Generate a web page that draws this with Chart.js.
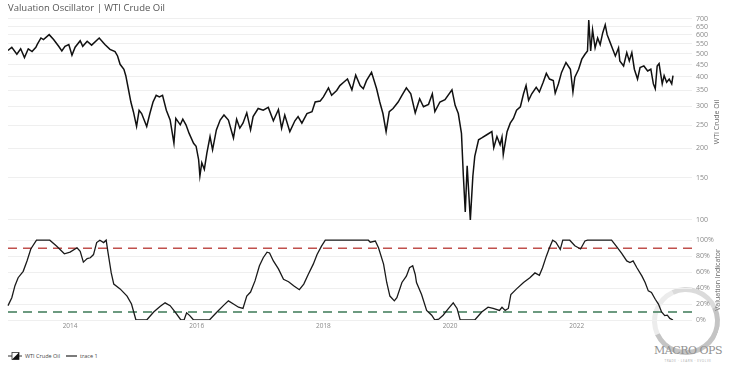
<!DOCTYPE html>
<html>
<head>
<meta charset="utf-8">
<script src="https://cdn.jsdelivr.net/npm/chart.js@4.4.0/dist/chart.umd.min.js"></script>
<style>
  html, body { margin: 0; padding: 0; background: #fff; }
  body { width: 731px; height: 381px; position: relative; overflow: hidden; font-family: "Open Sans", sans-serif; }
  canvas { position: absolute; left: 0; }
  #topChart { top: 0; z-index: 2; }
  #botChart { top: 232px; z-index: 2; }
  #title { position: absolute; left: 8px; top: 1px; font-size: 9.5px; color: #555; z-index: 3; }
  .ytitle { position: absolute; font-size: 7px; color: #666; white-space: nowrap; transform: translate(-50%, -50%) rotate(-90deg); z-index: 3; }
  #legend { position: absolute; left: 8px; top: 352px; font-size: 5.5px; color: #444; display: flex; align-items: center; z-index: 3; }
  #legend svg { margin-right: 3px; }
  #legend span { margin-right: 6px; }
  #logo { position: absolute; left: 652px; top: 287px; width: 58px; height: 58px; border-radius: 50%;
          border: 5px solid #c4c4c4; border-left-color: rgba(196,196,196,0.3); border-top-color: rgba(196,196,196,0.6);
          transform: rotate(20deg); z-index: 1; }
  #logoText { position: absolute; left: 648px; top: 344px; width: 80px; text-align: center; white-space: nowrap; font-family: "DejaVu Serif", "Liberation Serif", serif;
              font-size: 11px; color: #909090; letter-spacing: -0.5px; z-index: 1; }
  #logoTag { position: absolute; left: 648px; top: 359px; width: 80px; text-align: center; white-space: nowrap; font-size: 3px; color: #aaa; letter-spacing: 0.6px; z-index: 1; }
</style>
</head>
<body>
<div id="title">Valuation Oscillator | WTI Crude Oil</div>
<div class="ytitle" style="left:716px; top:122px;">WTI Crude Oil</div>
<div class="ytitle" style="left:717px; top:280px;">Valuation Indicator</div>
<div id="logo"></div>
<div id="logoText">MACRO OPS</div>
<div id="logoTag">TRADE · LEARN · EVOLVE</div>
<canvas id="topChart" width="731" height="235"></canvas>
<canvas id="botChart" width="731" height="110"></canvas>
<div id="legend">
  <svg width="14" height="8"><line x1="0" y1="4" x2="14" y2="4" stroke="#333" stroke-width="1"/><rect x="4" y="0.5" width="7" height="7" fill="#fff" stroke="#333" stroke-width="0.8"/><polygon points="4,7.5 11,0.5 11,7.5" fill="#111"/></svg>
  <span>WTI Crude Oil</span>
  <svg width="11" height="8"><line x1="0" y1="4" x2="11" y2="4" stroke="#333" stroke-width="1.3"/></svg>
  <span>trace 1</span>
</div>
<script>
// time in decimal years
let oilTime = [2013.02,2013.08,2013.16,2013.22,2013.28,2013.34,2013.40,2013.46,2013.48,2013.54,2013.58,2013.67,2013.74,2013.82,2013.87,2013.92,2013.98,
  2014.03,2014.08,2014.16,2014.20,2014.27,2014.34,2014.46,2014.55,2014.63,2014.71,2014.75,2014.79,2014.85,2014.88,2014.92,2014.96,
  2015.00,2015.05,2015.09,2015.13,2015.17,2015.21,2015.26,2015.31,2015.36,2015.41,2015.46,2015.52,2015.58,2015.64,2015.67,2015.74,2015.78,2015.83,2015.88,2015.95,2015.99,
  2016.03,2016.05,2016.08,2016.12,2016.16,2016.21,2016.25,2016.31,2016.37,2016.43,2016.50,2016.58,2016.63,2016.68,2016.73,2016.79,2016.85,2016.89,2016.97,
  2017.05,2017.13,2017.21,2017.29,2017.34,2017.39,2017.47,2017.55,2017.60,2017.66,2017.74,2017.82,2017.87,2017.95,
  2018.00,2018.08,2018.13,2018.21,2018.26,2018.32,2018.38,2018.45,2018.51,2018.58,2018.63,2018.68,2018.76,2018.84,2018.89,2018.94,2018.99,
  2019.04,2019.10,2019.18,2019.24,2019.31,2019.38,2019.45,2019.52,2019.58,2019.66,2019.72,2019.76,2019.84,2019.92,
  2020.03,2020.08,2020.13,2020.18,2020.21,2020.24,2020.27,2020.32,2020.36,2020.39,2020.45,2020.50,2020.58,2020.66,2020.69,2020.74,2020.79,2020.82,2020.84,2020.90,2020.95,
  2021.00,2021.05,2021.11,2021.16,2021.20,2021.24,2021.29,2021.36,2021.41,2021.47,2021.52,2021.57,2021.63,2021.66,2021.71,2021.76,2021.83,2021.90,2021.94,2021.97,
  2022.03,2022.08,2022.13,2022.17,2022.19,2022.22,2022.25,2022.29,2022.33,2022.37,2022.41,2022.45,2022.48,2022.53,2022.57,2022.61,2022.66,2022.68,2022.74,2022.79,2022.83,2022.87,2022.91,2022.96,
  2023.00,2023.06,2023.12,2023.17,2023.21,2023.24,2023.27,2023.30,2023.35,2023.38,2023.42,2023.46,2023.50,2023.52]
let oilPrice = [516,532,497,524,481,524,510,532,546,582,573,601,573,537,513,537,546,
  493,532,567,537,564,543,582,546,521,510,489,451,430,404,356,313,
  285,247,289,280,263,247,280,313,334,329,334,289,263,210,267,251,265,251,231,210,204,
  179,153,174,163,191,224,197,239,263,276,263,221,265,243,255,282,239,272,294,
  289,297,261,291,243,276,235,261,272,255,280,285,313,316,
  329,359,334,350,367,379,391,352,406,367,356,385,417,356,313,280,235,
  285,294,313,334,359,339,282,323,299,306,339,285,313,320,
  352,303,280,231,153,108,169,100,153,185,217,221,228,235,201,224,207,223,188,235,255,
  267,289,299,339,367,318,339,361,345,379,413,391,385,341,373,417,459,430,345,398,
  430,474,497,513,693,513,630,529,582,546,611,661,601,555,521,489,529,466,444,505,466,505,430,391,
  437,444,423,430,373,356,444,454,373,404,379,391,373,404]

let indTime = [2013.02,2013.08,2013.13,2013.18,2013.26,2013.32,2013.38,2013.47,2013.68,2013.79,2013.91,
  2014.00,2014.11,2014.16,2014.21,2014.27,2014.32,2014.37,2014.42,2014.47,2014.53,2014.57,2014.60,2014.65,2014.69,2014.79,2014.90,2014.97,
  2015.04,2015.21,2015.32,2015.42,2015.50,2015.58,2015.66,2015.75,2015.80,2015.84,2015.89,2015.95,
  2016.20,2016.32,2016.42,2016.50,2016.58,2016.66,2016.73,2016.79,2016.85,2016.92,2016.99,
  2017.05,2017.11,2017.15,2017.21,2017.29,2017.37,2017.45,2017.53,2017.62,2017.69,2017.76,2017.84,2017.90,2017.97,
  2018.03,2018.71,2018.74,2018.82,2018.87,2018.95,
  2019.00,2019.05,2019.12,2019.16,2019.24,2019.31,2019.36,2019.41,2019.45,2019.47,2019.55,2019.63,2019.71,2019.76,2019.82,2019.89,2019.97,
  2020.05,2020.11,2020.16,2020.39,2020.50,2020.60,2020.68,2020.78,2020.82,2020.87,2020.92,2020.96,
  2021.05,2021.16,2021.26,2021.34,2021.41,2021.46,2021.52,2021.57,2021.62,2021.67,2021.74,2021.78,2021.89,2021.97,
  2022.06,2022.13,2022.17,2022.55,2022.63,2022.71,2022.79,2022.84,2022.89,2022.95,
  2023.03,2023.08,2023.13,2023.18,2023.24,2023.29,2023.34,2023.39,2023.43,2023.47,2023.52]
let indValue = [18,28,43,53,61,74,89,100,100,92.5,83,
  85,90.5,86,72.5,77,78,82,97,100,97,100,84,59,45,39,30,20,
  0,0,10,17,21.5,18,10,0,0,9,5.5,0,
  0,10,18,24,20,16,14.5,30,35,49,68,
  78,85,84,74,64,51,48,43,38,45,57,70,82,92.5,
  100,100,97.5,99,90.5,70,
  47,30,24,28,47,55,65.5,68,57,47,32,12,6,0,1,6,14,
  21.5,14.5,0,0,10,16,14.5,12,16,12,14.5,32,
  39,47,53,59,56,65.5,80,90.5,100,97.5,88.5,100,100,93,
  89,99,100,100,92,83.5,74,72,74,65.5,
  55,47,36.5,34.5,26,20,10,5.5,6,2,0]

let oilTicks = [100,150,200,250,300,350,400,450,500,550,600,650,700]
let yearTicks = [2014,2016,2018,2020,2022]
let indTicks = [0,20,40,60,80,100]
const HIGH = 90, LOW = 10
const X_MIN = 2013.02, X_MAX = 2023.82

Chart.defaults.font.family = '"Open Sans", sans-serif'
Chart.defaults.animation = false

const tickFont = { size: 7 }
const tickColor = '#8a8a8a'
const gridColor = '#efefef'

function pts(xs, ys) { return xs.map((x, i) => ({ x: x, y: ys[i] })) }

// top panel - crude oil, log scale
new Chart(document.getElementById('topChart'), {
  type: 'line',
  data: {
    datasets: [{
      label: 'WTI Crude Oil',
      data: pts(oilTime, oilPrice),
      borderColor: '#111',
      borderWidth: 1.5,
      pointRadius: 0,
      tension: 0
    }]
  },
  options: {
    responsive: false,
    layout: { padding: { left: 8, right: 0, top: 15, bottom: 5 } },
    plugins: { legend: { display: false }, tooltip: { enabled: false } },
    scales: {
      x: { type: 'linear', min: X_MIN, max: X_MAX, display: false },
      y: {
        type: 'logarithmic',
        position: 'right',
        min: 93.5,
        max: 727,
        afterBuildTicks: s => { s.ticks = oilTicks.map(v => ({ value: v })) },
        afterFit: s => { s.width = 39 },
        ticks: { font: tickFont, color: tickColor, padding: 4, callback: v => v },
        grid: { color: gridColor, drawTicks: false },
        border: { display: false }
      }
    }
  }
})

// bottom panel - valuation indicator
new Chart(document.getElementById('botChart'), {
  type: 'line',
  data: {
    datasets: [{
      label: 'trace 1',
      data: pts(indTime, indValue),
      borderColor: '#1a1a1a',
      borderWidth: 1.3,
      pointRadius: 0,
      tension: 0,
      clip: { left: 2, top: 2, right: 2, bottom: 0 }
    }, {
      label: 'high',
      data: [{ x: X_MIN, y: HIGH }, { x: X_MAX, y: HIGH }],
      borderColor: '#c0504d',
      borderWidth: 1.4,
      borderDash: [9, 6],
      pointRadius: 0
    }, {
      label: 'low',
      data: [{ x: X_MIN, y: LOW }, { x: X_MAX, y: LOW }],
      borderColor: '#3d7a57',
      borderWidth: 1.4,
      borderDash: [9, 6],
      pointRadius: 0
    }]
  },
  options: {
    responsive: false,
    layout: { padding: { left: 8, right: 0, top: 7, bottom: 10 } },
    plugins: { legend: { display: false }, tooltip: { enabled: false } },
    scales: {
      x: {
        type: 'linear', min: X_MIN, max: X_MAX,
        afterBuildTicks: s => { s.ticks = yearTicks.map(v => ({ value: v })) },
        afterFit: s => { s.height = 12 },
        ticks: { font: { size: 6.5 }, color: tickColor, padding: 2, maxRotation: 0, callback: v => v },
        grid: { display: false, drawTicks: false },
        border: { display: false }
      },
      y: {
        position: 'right',
        min: 0,
        max: 100,
        afterBuildTicks: s => { s.ticks = indTicks.map(v => ({ value: v })) },
        afterFit: s => { s.width = 39 },
        ticks: { font: tickFont, color: tickColor, padding: 4, callback: v => v + '%' },
        grid: { color: gridColor, drawTicks: false },
        border: { display: false }
      }
    }
  }
})
</script>
</body>
</html>
